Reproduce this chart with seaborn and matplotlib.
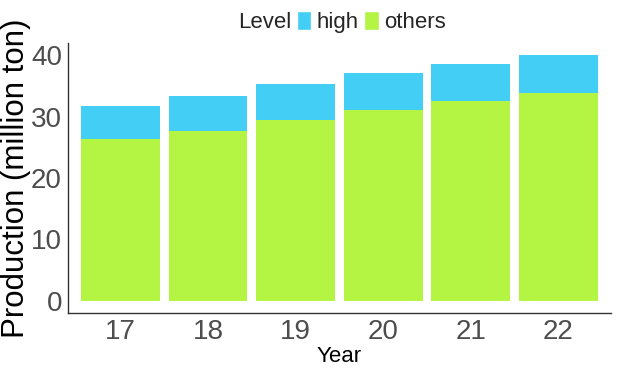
import matplotlib
matplotlib.use("Agg")
import matplotlib.pyplot as plt
import seaborn as sns
import pandas as pd
from matplotlib.patches import Patch

# data
years = ["17", "18", "19", "20", "21", "22"]
others = [26.3, 27.6, 29.5, 31.1, 32.5, 33.9]
high = [5.4, 5.7, 5.8, 6.0, 6.0, 6.1]

highColor = "#42CEF5"
othersColor = "#B3F542"

dataSet = pd.DataFrame({"Year": years, "others": others, "high": high})
dataSet["total"] = dataSet["others"] + dataSet["high"]

sns.set_style("white")
plt.rcParams["font.family"] = ["Liberation Sans", "DejaVu Sans"]

fig = plt.figure(figsize=(6.17, 3.7), dpi=100)
ax = fig.add_axes([0.110, 0.154, 0.880, 0.730])

sns.barplot(data=dataSet, x="Year", y="total", color=highColor, width=0.9,
            saturation=1, linewidth=0, ax=ax)
sns.barplot(data=dataSet, x="Year", y="others", color=othersColor, width=0.9,
            saturation=1, linewidth=0, ax=ax)

ax.set_xlim(-0.6, 5.6)
ax.set_ylim(-2, 42)
ax.set_yticks([0, 10, 20, 30, 40])
for side in ["top", "right"]:
    ax.spines[side].set_visible(False)
for side in ["left", "bottom"]:
    ax.spines[side].set_color("#333333")
    ax.spines[side].set_linewidth(1.0)
ax.tick_params(axis="both", length=2.75, width=0.8, color="#333333",
               labelsize=20, labelcolor="#4D4D4D", pad=1.5)
ax.set_xlabel("Year", fontsize=16, color="black", labelpad=1)
ax.set_ylabel("Production (million ton)", fontsize=22.5, color="black", va="center")
ax.yaxis.set_label_coords(-0.096, 0.5)

# legend on top, title on the left
fig.text(0.473, 0.94, "Level", fontsize=16, ha="right", va="center")
handles = [Patch(facecolor=highColor, label="high"),
           Patch(facecolor=othersColor, label="others")]
fig.legend(handles=handles, loc="center left", bbox_to_anchor=(0.481, 0.94),
           ncol=2, frameon=False, fontsize=16, handlelength=0.65, handleheight=0.95,
           handletextpad=0.25, columnspacing=0.25, borderpad=0, borderaxespad=0)

fig.savefig("out.png", dpi=100)
